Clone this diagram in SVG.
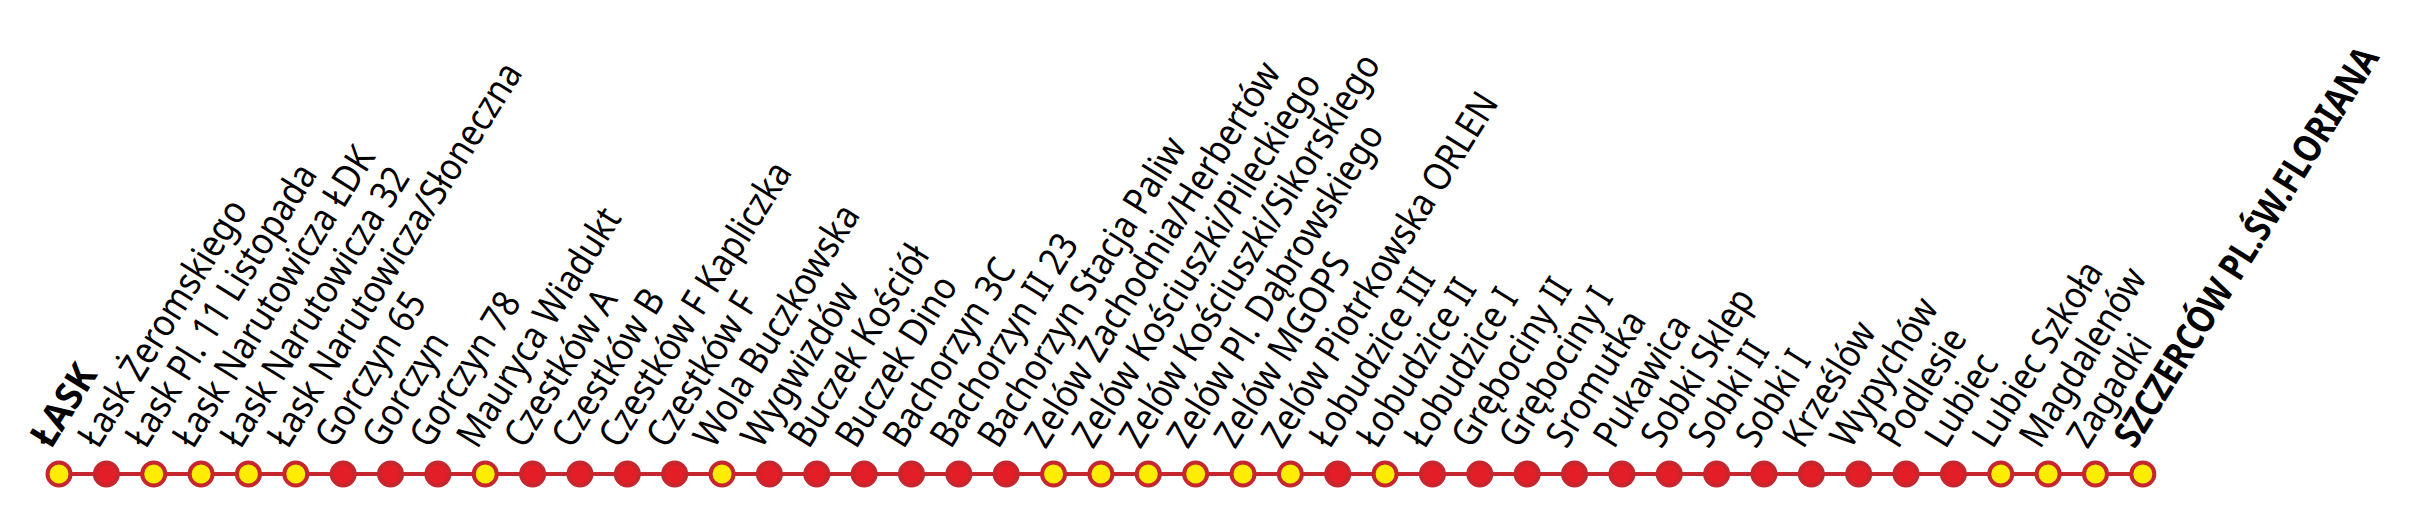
<svg xmlns="http://www.w3.org/2000/svg" width="2433" height="529" viewBox="0 0 2433 529">
<style>
.bg{fill:#ffffff}
.conn line{stroke:#c6262e;stroke-width:4}
.st{stroke:#c6262e;stroke-width:4}
.y{fill:#ffed00}
.r{fill:#e41e26}
.lbl{font-family:"Noto Sans","Open Sans","DejaVu Sans",sans-serif;font-size:38px;fill:#000000}
.b{font-weight:bold}
</style>
<rect class="bg" x="0" y="0" width="2433" height="529"/>
<g id="connectors" class="conn">
<line x1="59" y1="474" x2="2142.84" y2="474"/>
</g>
<g id="stations">
<g id="n0" transform="translate(59,474)"><circle class="st y" r="11.5"/><text class="lbl b" transform="translate(-8,-24) rotate(-58) scale(0.95,1)">ŁASK</text></g>
<g id="n1" transform="translate(106.36,474)"><circle class="st r" r="11.5"/><text class="lbl" transform="translate(-8,-24) rotate(-58) scale(0.88,1)">Łask Żeromskiego</text></g>
<g id="n2" transform="translate(153.72,474)"><circle class="st y" r="11.5"/><text class="lbl" transform="translate(-8,-24) rotate(-58) scale(0.88,1)">Łask Pl. 11 Listopada</text></g>
<g id="n3" transform="translate(201.08,474)"><circle class="st y" r="11.5"/><text class="lbl" transform="translate(-8,-24) rotate(-58) scale(0.88,1)">Łask Narutowicza ŁDK</text></g>
<g id="n4" transform="translate(248.44,474)"><circle class="st y" r="11.5"/><text class="lbl" transform="translate(-8,-24) rotate(-58) scale(0.88,1)">Łask Narutowicza 32</text></g>
<g id="n5" transform="translate(295.8,474)"><circle class="st y" r="11.5"/><text class="lbl" transform="translate(-8,-24) rotate(-58) scale(0.88,1)">Łask Narutowicza/Słoneczna</text></g>
<g id="n6" transform="translate(343.16,474)"><circle class="st r" r="11.5"/><text class="lbl" transform="translate(-8,-24) rotate(-58) scale(0.88,1)">Gorczyn 65</text></g>
<g id="n7" transform="translate(390.52,474)"><circle class="st r" r="11.5"/><text class="lbl" transform="translate(-8,-24) rotate(-58) scale(0.88,1)">Gorczyn</text></g>
<g id="n8" transform="translate(437.88,474)"><circle class="st r" r="11.5"/><text class="lbl" transform="translate(-8,-24) rotate(-58) scale(0.88,1)">Gorczyn 78</text></g>
<g id="n9" transform="translate(485.24,474)"><circle class="st y" r="11.5"/><text class="lbl" transform="translate(-8,-24) rotate(-58) scale(0.88,1)">Mauryca Wiadukt</text></g>
<g id="n10" transform="translate(532.6,474)"><circle class="st r" r="11.5"/><text class="lbl" transform="translate(-8,-24) rotate(-58) scale(0.88,1)">Czestków A</text></g>
<g id="n11" transform="translate(579.96,474)"><circle class="st r" r="11.5"/><text class="lbl" transform="translate(-8,-24) rotate(-58) scale(0.88,1)">Czestków B</text></g>
<g id="n12" transform="translate(627.32,474)"><circle class="st r" r="11.5"/><text class="lbl" transform="translate(-8,-24) rotate(-58) scale(0.88,1)">Czestków F Kapliczka</text></g>
<g id="n13" transform="translate(674.68,474)"><circle class="st r" r="11.5"/><text class="lbl" transform="translate(-8,-24) rotate(-58) scale(0.88,1)">Czestków F</text></g>
<g id="n14" transform="translate(722.04,474)"><circle class="st y" r="11.5"/><text class="lbl" transform="translate(-8,-24) rotate(-58) scale(0.88,1)">Wola Buczkowska</text></g>
<g id="n15" transform="translate(769.4,474)"><circle class="st r" r="11.5"/><text class="lbl" transform="translate(-8,-24) rotate(-58) scale(0.88,1)">Wygwizdów</text></g>
<g id="n16" transform="translate(816.76,474)"><circle class="st r" r="11.5"/><text class="lbl" transform="translate(-8,-24) rotate(-58) scale(0.88,1)">Buczek Kościół</text></g>
<g id="n17" transform="translate(864.12,474)"><circle class="st r" r="11.5"/><text class="lbl" transform="translate(-8,-24) rotate(-58) scale(0.88,1)">Buczek Dino</text></g>
<g id="n18" transform="translate(911.48,474)"><circle class="st r" r="11.5"/><text class="lbl" transform="translate(-8,-24) rotate(-58) scale(0.88,1)">Bachorzyn 3C</text></g>
<g id="n19" transform="translate(958.84,474)"><circle class="st r" r="11.5"/><text class="lbl" transform="translate(-8,-24) rotate(-58) scale(0.88,1)">Bachorzyn II 23</text></g>
<g id="n20" transform="translate(1006.2,474)"><circle class="st r" r="11.5"/><text class="lbl" transform="translate(-8,-24) rotate(-58) scale(0.88,1)">Bachorzyn Stacja Paliw</text></g>
<g id="n21" transform="translate(1053.56,474)"><circle class="st y" r="11.5"/><text class="lbl" transform="translate(-8,-24) rotate(-58) scale(0.88,1)">Zelów Zachodnia/Herbertów</text></g>
<g id="n22" transform="translate(1100.92,474)"><circle class="st y" r="11.5"/><text class="lbl" transform="translate(-8,-24) rotate(-58) scale(0.88,1)">Zelów Kościuszki/Pileckiego</text></g>
<g id="n23" transform="translate(1148.28,474)"><circle class="st y" r="11.5"/><text class="lbl" transform="translate(-8,-24) rotate(-58) scale(0.88,1)">Zelów Kościuszki/Sikorskiego</text></g>
<g id="n24" transform="translate(1195.64,474)"><circle class="st y" r="11.5"/><text class="lbl" transform="translate(-8,-24) rotate(-58) scale(0.88,1)">Zelów Pl. Dąbrowskiego</text></g>
<g id="n25" transform="translate(1243,474)"><circle class="st y" r="11.5"/><text class="lbl" transform="translate(-8,-24) rotate(-58) scale(0.88,1)">Zelów MGOPS</text></g>
<g id="n26" transform="translate(1290.36,474)"><circle class="st y" r="11.5"/><text class="lbl" transform="translate(-8,-24) rotate(-58) scale(0.88,1)">Zelów Piotrkowska ORLEN</text></g>
<g id="n27" transform="translate(1337.72,474)"><circle class="st r" r="11.5"/><text class="lbl" transform="translate(-8,-24) rotate(-58) scale(0.88,1)">Łobudzice III</text></g>
<g id="n28" transform="translate(1385.08,474)"><circle class="st y" r="11.5"/><text class="lbl" transform="translate(-8,-24) rotate(-58) scale(0.88,1)">Łobudzice II</text></g>
<g id="n29" transform="translate(1432.44,474)"><circle class="st r" r="11.5"/><text class="lbl" transform="translate(-8,-24) rotate(-58) scale(0.88,1)">Łobudzice I</text></g>
<g id="n30" transform="translate(1479.8,474)"><circle class="st r" r="11.5"/><text class="lbl" transform="translate(-8,-24) rotate(-58) scale(0.88,1)">Grębociny II</text></g>
<g id="n31" transform="translate(1527.16,474)"><circle class="st r" r="11.5"/><text class="lbl" transform="translate(-8,-24) rotate(-58) scale(0.88,1)">Grębociny I</text></g>
<g id="n32" transform="translate(1574.52,474)"><circle class="st r" r="11.5"/><text class="lbl" transform="translate(-8,-24) rotate(-58) scale(0.88,1)">Sromutka</text></g>
<g id="n33" transform="translate(1621.88,474)"><circle class="st r" r="11.5"/><text class="lbl" transform="translate(-8,-24) rotate(-58) scale(0.88,1)">Pukawica</text></g>
<g id="n34" transform="translate(1669.24,474)"><circle class="st r" r="11.5"/><text class="lbl" transform="translate(-8,-24) rotate(-58) scale(0.88,1)">Sobki Sklep</text></g>
<g id="n35" transform="translate(1716.6,474)"><circle class="st r" r="11.5"/><text class="lbl" transform="translate(-8,-24) rotate(-58) scale(0.88,1)">Sobki II</text></g>
<g id="n36" transform="translate(1763.96,474)"><circle class="st r" r="11.5"/><text class="lbl" transform="translate(-8,-24) rotate(-58) scale(0.88,1)">Sobki I</text></g>
<g id="n37" transform="translate(1811.32,474)"><circle class="st r" r="11.5"/><text class="lbl" transform="translate(-8,-24) rotate(-58) scale(0.88,1)">Krześlów</text></g>
<g id="n38" transform="translate(1858.68,474)"><circle class="st r" r="11.5"/><text class="lbl" transform="translate(-8,-24) rotate(-58) scale(0.88,1)">Wypychów</text></g>
<g id="n39" transform="translate(1906.04,474)"><circle class="st r" r="11.5"/><text class="lbl" transform="translate(-8,-24) rotate(-58) scale(0.88,1)">Podlesie</text></g>
<g id="n40" transform="translate(1953.4,474)"><circle class="st r" r="11.5"/><text class="lbl" transform="translate(-8,-24) rotate(-58) scale(0.88,1)">Lubiec</text></g>
<g id="n41" transform="translate(2000.76,474)"><circle class="st y" r="11.5"/><text class="lbl" transform="translate(-8,-24) rotate(-58) scale(0.88,1)">Lubiec Szkoła</text></g>
<g id="n42" transform="translate(2048.12,474)"><circle class="st y" r="11.5"/><text class="lbl" transform="translate(-8,-24) rotate(-58) scale(0.88,1)">Magdalenów</text></g>
<g id="n43" transform="translate(2095.48,474)"><circle class="st y" r="11.5"/><text class="lbl" transform="translate(-8,-24) rotate(-58) scale(0.88,1)">Zagadki</text></g>
<g id="n44" transform="translate(2142.84,474)"><circle class="st y" r="11.5"/><text class="lbl b" transform="translate(-8,-24) rotate(-58) scale(0.84,1)">SZCZERCÓW PL.ŚW.FLORIANA</text></g>
</g>
</svg>
